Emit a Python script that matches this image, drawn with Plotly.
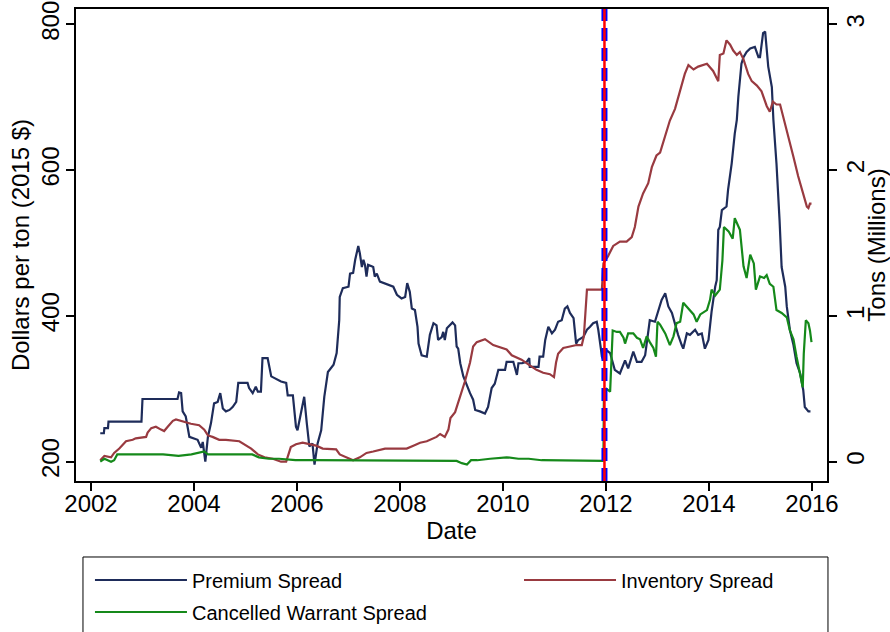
import plotly.graph_objects as go

# ---------------- data ----------------
PREMIUM_DATE = [
    2002.18, 2002.25, 2002.26, 2002.33, 2002.34, 2002.98, 2003.00, 2003.68, 2003.71, 2003.75,
    2003.78, 2003.84, 2003.91, 2004.01, 2004.07, 2004.14, 2004.17, 2004.22, 2004.27, 2004.33,
    2004.39, 2004.46, 2004.51, 2004.56, 2004.62, 2004.69, 2004.75, 2004.82, 2004.86, 2005.04,
    2005.07, 2005.14, 2005.20, 2005.24, 2005.30, 2005.33, 2005.43, 2005.50, 2005.59, 2005.69,
    2005.79, 2005.82, 2005.92, 2005.98, 2006.01, 2006.08, 2006.14, 2006.19, 2006.24, 2006.30,
    2006.34, 2006.40, 2006.47, 2006.53, 2006.60, 2006.71, 2006.77, 2006.82, 2006.83, 2006.89,
    2007.00, 2007.03, 2007.09, 2007.13, 2007.19, 2007.22, 2007.26, 2007.29, 2007.32, 2007.35,
    2007.38, 2007.45, 2007.48, 2007.51, 2007.55, 2007.61, 2007.74, 2007.87, 2007.94, 2008.03,
    2008.10, 2008.14, 2008.19, 2008.23, 2008.29, 2008.34, 2008.36, 2008.42, 2008.52, 2008.58,
    2008.65, 2008.71, 2008.74, 2008.81, 2008.84, 2008.87, 2008.91, 2008.96, 2009.02, 2009.07,
    2009.10, 2009.13, 2009.17, 2009.23, 2009.30, 2009.36, 2009.42, 2009.46, 2009.55, 2009.65,
    2009.71, 2009.78, 2009.84, 2009.91, 2010.04, 2010.07, 2010.20, 2010.27, 2010.30, 2010.37,
    2010.46, 2010.51, 2010.52, 2010.69, 2010.71, 2010.78, 2010.82, 2010.88, 2010.95, 2011.01,
    2011.07, 2011.14, 2011.20, 2011.25, 2011.30, 2011.37, 2011.42, 2011.46, 2011.56, 2011.63,
    2011.69, 2011.75, 2011.82, 2011.85, 2011.90, 2011.92, 2011.95, 2012.01, 2012.08, 2012.17,
    2012.27, 2012.37, 2012.43, 2012.53, 2012.60, 2012.69, 2012.76, 2012.79, 2012.85, 2012.95,
    2013.02, 2013.08, 2013.15, 2013.21, 2013.28, 2013.34, 2013.40, 2013.47, 2013.50, 2013.57,
    2013.63, 2013.73, 2013.79, 2013.86, 2013.92, 2013.99, 2014.05, 2014.12, 2014.15, 2014.18,
    2014.21, 2014.25, 2014.34, 2014.37, 2014.44, 2014.50, 2014.54, 2014.57, 2014.63, 2014.67,
    2014.73, 2014.80, 2014.89, 2014.96, 2014.99, 2015.05, 2015.09, 2015.15, 2015.22, 2015.25,
    2015.31, 2015.37, 2015.41, 2015.48, 2015.51, 2015.57, 2015.64, 2015.70, 2015.77, 2015.83,
    2015.86, 2015.93, 2015.97,
]
PREMIUM_SPREAD = [
    239, 239, 246, 246, 255, 255, 286, 286, 295, 294,
    269, 262, 234, 232, 230, 219, 227, 200, 234, 253,
    280, 282, 294, 273, 269, 271, 275, 282, 308, 308,
    301, 294, 303, 296, 296, 342, 342, 317, 314, 310,
    308, 291, 291, 248, 243, 266, 289, 253, 221, 225,
    196, 225, 243, 289, 323, 333, 349, 394, 426, 438,
    440, 458, 459, 477, 496, 486, 467, 477, 470, 454,
    470, 468, 467, 454, 458, 447, 444, 440, 429, 424,
    426, 445, 433, 410, 408, 385, 362, 346, 344, 374,
    390, 387, 367, 371, 378, 367, 383, 387, 391, 387,
    358, 355, 335, 317, 303, 294, 285, 271, 269, 266,
    275, 301, 307, 326, 326, 337, 337, 319, 335, 335,
    337, 342, 330, 330, 344, 344, 367, 385, 376, 381,
    392, 394, 410, 413, 404, 397, 362, 367, 371, 381,
    385, 390, 392, 381, 355, 344, 339, 353, 349, 326,
    321, 339, 328, 351, 337, 337, 346, 360, 394, 392,
    408, 422, 431, 413, 404, 387, 374, 360, 355, 376,
    374, 381, 374, 376, 355, 367, 406, 440, 449, 518,
    522, 545, 550, 573, 609, 650, 669, 701, 746, 755,
    762, 767, 769, 755, 755, 788, 790, 742, 714, 669,
    609, 531, 467, 440, 413, 381, 360, 335, 321, 298,
    275, 269, 269,
]

INVENTORY_DATE = [
    2002.18, 2002.26, 2002.39, 2002.45, 2002.55, 2002.68, 2002.81, 2002.87, 2003.07, 2003.10,
    2003.17, 2003.26, 2003.36, 2003.42, 2003.49, 2003.59, 2003.65, 2003.84, 2003.94, 2004.10,
    2004.20, 2004.27, 2004.36, 2004.49, 2004.62, 2004.88, 2004.98, 2005.11, 2005.24, 2005.37,
    2005.53, 2005.69, 2005.79, 2005.85, 2005.88, 2005.98, 2006.11, 2006.24, 2006.37, 2006.50,
    2006.76, 2006.83, 2006.97, 2007.09, 2007.22, 2007.35, 2007.48, 2007.71, 2008.00, 2008.13,
    2008.26, 2008.39, 2008.52, 2008.71, 2008.78, 2008.87, 2008.94, 2008.98, 2009.07, 2009.17,
    2009.26, 2009.36, 2009.42, 2009.49, 2009.59, 2009.65, 2009.81, 2009.91, 2010.07, 2010.17,
    2010.36, 2010.52, 2010.65, 2010.78, 2010.91, 2010.99, 2011.03, 2011.07, 2011.17, 2011.30,
    2011.43, 2011.53, 2011.57, 2011.63, 2011.75, 2011.92, 2011.95, 2012.04, 2012.14, 2012.27,
    2012.40, 2012.50, 2012.56, 2012.63, 2012.72, 2012.82, 2012.89, 2012.98, 2013.05, 2013.15,
    2013.24, 2013.34, 2013.40, 2013.47, 2013.53, 2013.60, 2013.70, 2013.79, 2013.89, 2013.96,
    2014.08, 2014.18, 2014.21, 2014.28, 2014.34, 2014.41, 2014.47, 2014.54, 2014.60, 2014.67,
    2014.76, 2014.83, 2014.93, 2015.02, 2015.12, 2015.18, 2015.24, 2015.31, 2015.38, 2015.44,
    2015.54, 2015.64, 2015.73, 2015.83, 2015.90, 2015.93, 2015.96, 2015.99,
]
INVENTORY_SPREAD = [
    0.01, 0.04, 0.03, 0.06, 0.09, 0.14, 0.15, 0.16, 0.17, 0.20,
    0.23, 0.24, 0.22, 0.21, 0.24, 0.28, 0.29, 0.27, 0.26, 0.25,
    0.22, 0.18, 0.17, 0.15, 0.15, 0.14, 0.12, 0.09, 0.05, 0.03,
    0.02, 0.00, 0.00, 0.06, 0.10, 0.12, 0.13, 0.12, 0.11, 0.09,
    0.085, 0.05, 0.03, 0.01, 0.03, 0.06, 0.07, 0.09, 0.09, 0.09,
    0.11, 0.13, 0.14, 0.17, 0.19, 0.17, 0.22, 0.30, 0.34, 0.45,
    0.55, 0.68, 0.79, 0.82, 0.83, 0.84, 0.80, 0.79, 0.77, 0.73,
    0.70, 0.66, 0.63, 0.61, 0.60, 0.58, 0.68, 0.74, 0.78, 0.79,
    0.80, 0.80, 0.86, 1.18, 1.18, 1.18, 1.36, 1.41, 1.48, 1.51,
    1.51, 1.54, 1.61, 1.75, 1.84, 1.91, 2.02, 2.10, 2.12, 2.23,
    2.34, 2.42, 2.50, 2.60, 2.66, 2.72, 2.69, 2.71, 2.72, 2.73,
    2.68, 2.61, 2.79, 2.80, 2.89, 2.86, 2.82, 2.79, 2.81, 2.76,
    2.66, 2.61, 2.58, 2.54, 2.44, 2.40, 2.47, 2.45, 2.45, 2.37,
    2.23, 2.09, 1.96, 1.84, 1.75, 1.74, 1.77, 1.77,
]

CANCELLED_DATE = [
    2002.18, 2002.26, 2002.39, 2002.45, 2002.51, 2002.53, 2002.80, 2003.10, 2003.40, 2003.70,
    2003.95, 2004.20, 2004.27, 2004.40, 2004.60, 2004.85, 2004.97, 2005.13, 2005.26, 2005.45,
    2005.65, 2005.97, 2006.30, 2006.76, 2007.00, 2007.25, 2007.60, 2008.00, 2008.50, 2009.10,
    2009.20, 2009.30, 2009.38, 2009.50, 2009.75, 2010.07, 2010.30, 2010.50, 2010.75, 2011.00,
    2011.30, 2011.50, 2011.95, 2011.96, 2012.01, 2012.08, 2012.13, 2012.21, 2012.27, 2012.34,
    2012.37, 2012.43, 2012.53, 2012.60, 2012.66, 2012.72, 2012.79, 2012.85, 2012.92, 2012.97,
    2013.00, 2013.05, 2013.15, 2013.24, 2013.31, 2013.37, 2013.44, 2013.50, 2013.60, 2013.70,
    2013.76, 2013.83, 2013.96, 2014.02, 2014.05, 2014.12, 2014.21, 2014.26, 2014.29, 2014.38,
    2014.46, 2014.50, 2014.60, 2014.67, 2014.73, 2014.80, 2014.87, 2014.91, 2014.99, 2015.07,
    2015.12, 2015.18, 2015.25, 2015.31, 2015.41, 2015.51, 2015.57, 2015.64, 2015.70, 2015.77,
    2015.82, 2015.84, 2015.88, 2015.93, 2015.96, 2015.99,
]
CANCELLED_SPREAD = [
    0.00, 0.02, 0.00, 0.01, 0.05, 0.05, 0.05, 0.05, 0.05, 0.04,
    0.05, 0.07, 0.05, 0.05, 0.05, 0.05, 0.05, 0.05, 0.03, 0.02,
    0.02, 0.01, 0.01, 0.01, 0.01, 0.005, 0.005, 0.005, 0.005, 0.005,
    -0.01, -0.02, 0.01, 0.01, 0.02, 0.03, 0.02, 0.02, 0.01, 0.01,
    0.01, 0.01, 0.005, 0.49, 0.50, 0.48, 0.90, 0.89, 0.89, 0.85,
    0.81, 0.88, 0.88, 0.85, 0.84, 0.78, 0.86, 0.82, 0.78, 0.72,
    0.96, 0.94, 0.88, 0.80, 0.86, 0.95, 0.96, 1.09, 1.05, 1.01,
    0.96, 1.01, 1.04, 1.11, 1.18, 1.14, 1.18, 1.38, 1.61, 1.58,
    1.53, 1.67, 1.59, 1.34, 1.26, 1.42, 1.36, 1.18, 1.27, 1.26,
    1.28, 1.22, 1.20, 1.04, 1.02, 0.99, 0.90, 0.84, 0.72, 0.61,
    0.51, 0.74, 0.97, 0.95, 0.90, 0.82,
]

EVENT_DATE = 2011.97
X_TICKS = [2002, 2004, 2006, 2008, 2010, 2012, 2014, 2016]
Y_TICKS = [200, 400, 600, 800]
Y2_TICKS = [0, 1, 2, 3]

NAVY = "#1e2c5a"
MAROON = "#993a40"
GREEN = "#15891a"
FONT = "Liberation Sans, Arial, sans-serif"

fig = go.Figure()
fig.add_trace(go.Scatter(x=PREMIUM_DATE, y=PREMIUM_SPREAD, mode="lines", legend="legend",
                         name="Premium Spread", line=dict(color=NAVY, width=2.2)))
fig.add_trace(go.Scatter(x=INVENTORY_DATE, y=INVENTORY_SPREAD, mode="lines", yaxis="y2",
                         legend="legend2",
                         name="Inventory Spread", line=dict(color=MAROON, width=2.2)))
fig.add_trace(go.Scatter(x=CANCELLED_DATE, y=CANCELLED_SPREAD, mode="lines", yaxis="y2",
                         legend="legend3",
                         name="Cancelled Warrant Spread", line=dict(color=GREEN, width=2.2)))

# event marker: blue dashed line with a red solid line on top
fig.add_shape(type="line", x0=EVENT_DATE, x1=EVENT_DATE, y0=0, y1=1, xref="x", yref="paper",
              line=dict(color="#0000ff", width=6, dash="13px,7px"), layer="above")
fig.add_shape(type="line", x0=EVENT_DATE, x1=EVENT_DATE, y0=0, y1=1, xref="x", yref="paper",
              line=dict(color="#ff0000", width=2.5), layer="above")

# legend frame
fig.add_shape(type="rect", xref="paper", yref="paper", x0=0.0093, x1=1.0013, y0=-0.161, y1=-0.34,
              line=dict(color="black", width=1), fillcolor="rgba(0,0,0,0)", layer="below")

axis_common = dict(showgrid=False, zeroline=False, showline=True, linecolor="black",
                   linewidth=1.5, ticks="outside", ticklen=8, tickwidth=1.5, tickcolor="black",
                   tickfont=dict(family=FONT, size=24, color="black"))

legend_common = dict(orientation="v", xanchor="left", yanchor="middle", itemwidth=92,
                     borderwidth=0, bgcolor="rgba(0,0,0,0)",
                     font=dict(family=FONT, size=20, color="black"))

fig.update_layout(
    width=890, height=632,
    paper_bgcolor="white", plot_bgcolor="white",
    margin=dict(l=76, r=63, t=9, b=151, autoexpand=False),
    font=dict(family=FONT, size=24, color="black"),
    xaxis=dict(range=[2001.709, 2016.291], tickvals=X_TICKS, mirror=True,
               ticklabelstandoff=-8,
               title=dict(text="Date", font=dict(size=24), standoff=2), **axis_common),
    yaxis=dict(range=[173.5, 821], tickvals=Y_TICKS, tickangle=-90, ticklabelstandoff=-2,
               title=dict(text="Dollars per ton (2015 $)", font=dict(size=24), standoff=0),
               **axis_common),
    yaxis2=dict(range=[-0.1325, 3.105], tickvals=Y2_TICKS, tickangle=-90, overlaying="y",
                side="right", ticklabelstandoff=-2,
                title=dict(text="Tons (Millions)", font=dict(size=24), standoff=9),
                **axis_common),
    showlegend=True,
    legend=dict(x=0.0186, y=-0.2097, **legend_common),
    legend2=dict(x=0.5899, y=-0.2097, **legend_common),
    legend3=dict(x=0.0186, y=-0.2775, **legend_common),
)

fig.write_html("out.html", config={"displayModeBar": False},
               post_script="document.body.style.margin='0';")
